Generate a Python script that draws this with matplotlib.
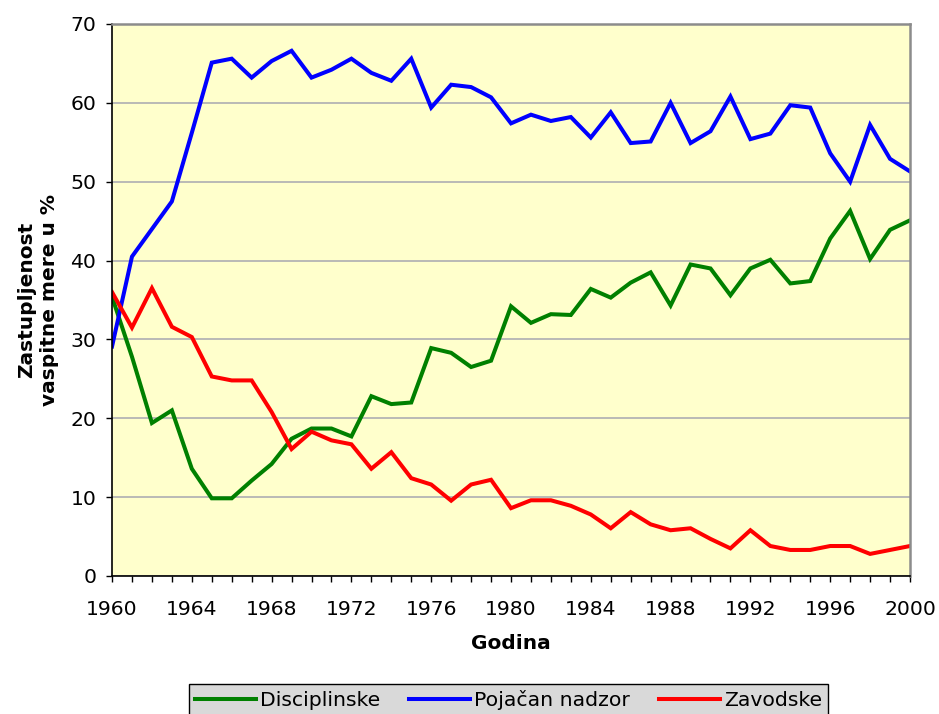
import matplotlib
matplotlib.use("Agg")
import matplotlib.pyplot as plt
from matplotlib.ticker import MultipleLocator

# years 1960-2000, values
years = list(range(1960, 2001))

disciplinske = [35.4, 27.8, 19.4, 21.0, 13.6, 9.85, 9.85, 12.1, 14.2, 17.4,
                18.7, 18.7, 17.7, 22.8, 21.8, 22.0, 28.9, 28.3, 26.5, 27.3,
                34.2, 32.1, 33.2, 33.1, 36.4, 35.3, 37.2, 38.5, 34.3, 39.5,
                39.0, 35.6, 39.0, 40.1, 37.1, 37.4, 42.8, 46.3, 40.2, 43.9,
                45.1]

pojacan_nadzor = [29.1, 40.5, 44.0, 47.5, 56.2, 65.1, 65.6, 63.2, 65.3, 66.6,
                  63.2, 64.2, 65.6, 63.8, 62.8, 65.6, 59.4, 62.3, 62.0, 60.7,
                  57.4, 58.5, 57.7, 58.2, 55.6, 58.8, 54.9, 55.1, 60.0, 54.9,
                  56.4, 60.8, 55.4, 56.1, 59.7, 59.4, 53.6, 50.0, 57.2, 52.9,
                  51.3]

zavodske = [36.0, 31.5, 36.5, 31.6, 30.3, 25.3, 24.8, 24.8, 20.8, 16.1,
            18.3, 17.2, 16.7, 13.6, 15.7, 12.4, 11.6, 9.55, 11.6, 12.2,
            8.6, 9.6, 9.6, 8.9, 7.8, 6.05, 8.1, 6.55, 5.8, 6.05,
            4.7, 3.5, 5.8, 3.8, 3.3, 3.3, 3.8, 3.8, 2.8, 3.3,
            3.8]

series_names = ["Disciplinske", "Pojačan nadzor", "Zavodske"]
series_colors = ["#008000", "#0000FF", "#FF0000"]

fig = plt.figure(figsize=(9.39, 7.14), dpi=100)
ax = fig.add_axes([0.1193, 0.1933, 0.8498, 0.7731])
ax.set_facecolor("#FFFFCC")

for vals, name, col in zip([disciplinske, pojacan_nadzor, zavodske],
                           series_names, series_colors):
    ax.plot(years, vals, color=col, linewidth=2.9, label=name,
            solid_joinstyle="miter")

ax.set_xlim(1960, 2000)
ax.set_ylim(0, 70)
ax.xaxis.set_major_locator(MultipleLocator(4))
ax.xaxis.set_minor_locator(MultipleLocator(1))
ax.yaxis.set_major_locator(MultipleLocator(10))

ax.grid(axis="y", color="#B4B4B4", linewidth=1.3)
ax.set_axisbelow(True)

for side in ["top", "right"]:
    ax.spines[side].set_color("#8C8C8C")
    ax.spines[side].set_linewidth(1.8)
for side in ["left", "bottom"]:
    ax.spines[side].set_color("black")
    ax.spines[side].set_linewidth(1.2)

ax.tick_params(axis="both", which="major", direction="out", length=4.3,
               width=1, labelsize=14.7)
ax.tick_params(axis="x", which="minor", direction="out", length=4.3, width=1)
ax.tick_params(axis="x", which="major", pad=13)
ax.tick_params(axis="y", which="major", pad=7)

ax.set_xlabel("Godina", fontsize=14.5, fontweight="bold", labelpad=11)
ax.set_ylabel("Zastupljenost\nvaspitne mere u %", fontsize=14.5,
              fontweight="bold", labelpad=8, linespacing=1.3)

leg = fig.legend(loc="upper center", bbox_to_anchor=(0.5415, 0.042), ncol=3,
                 fontsize=14.7, frameon=True, fancybox=False,
                 facecolor="#D9D9D9", edgecolor="black", framealpha=1,
                 handlelength=3.0, handletextpad=0.2, columnspacing=1.4,
                 borderpad=0.3, borderaxespad=0)
leg.get_frame().set_linewidth(1.0)

fig.savefig("out.png", dpi=100)
